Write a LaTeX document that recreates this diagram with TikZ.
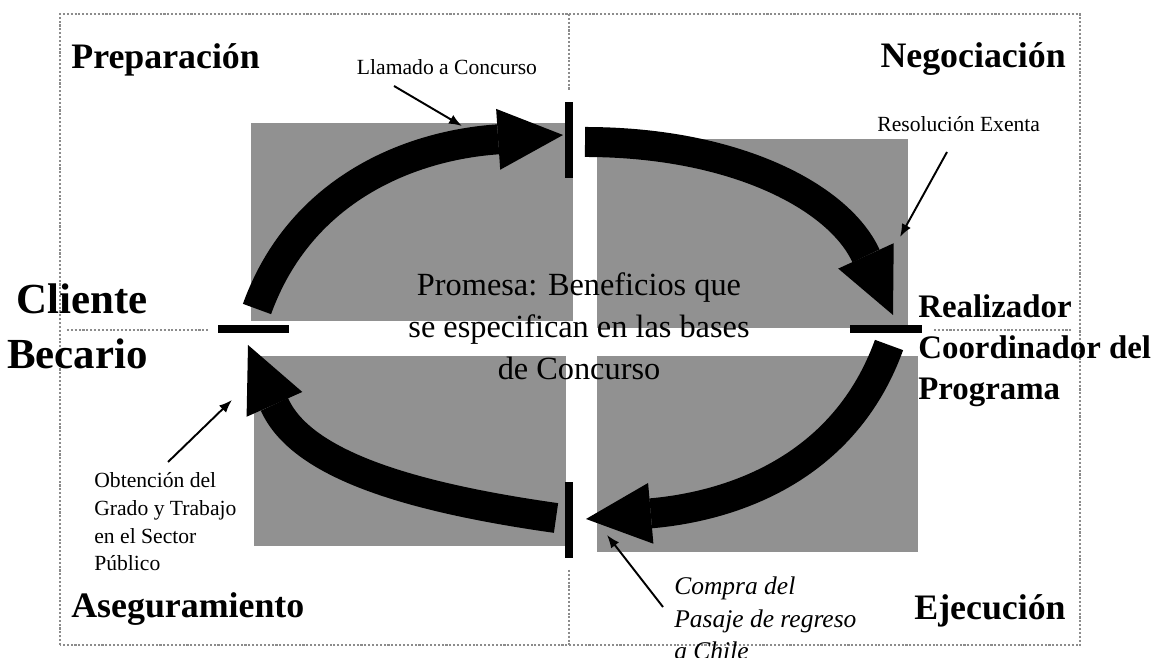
\documentclass[tikz,border=0pt]{standalone}
\usepackage{fontspec}
\setmainfont{Liberation Serif}
\usetikzlibrary{arrows.meta}
\definecolor{boxgray}{RGB}{145,145,145}
\definecolor{framegray}{RGB}{140,140,140}

\begin{document}
\begin{tikzpicture}[x=0.02cm,y=0.02cm,
  frameline/.style={framegray,densely dotted,line width=1.2pt},
  bar/.style={rectangle,fill=black,inner sep=0,outer sep=0},
  vbar/.style={bar,minimum width=0.16cm,minimum height=1.52cm},
  hbar/.style={bar,minimum width=1.44cm,minimum height=0.16cm},
  bigarrow/.style={line width=0.6cm,-{Triangle[length=1.3cm,width=1.22cm,line width=0pt]}},
  leader/.style={line width=1.1pt,-{Latex[length=0.26cm,width=0.2cm]}},
  heading/.style={inner sep=0,font=\fontsize{20.4}{24}\selectfont\bfseries},
  note/.style={inner sep=0,font=\fontsize{12.3}{15.9}\selectfont}]

\useasboundingbox (0,0) rectangle (1152,658);

% quadrants
\fill[boxgray] (251,535) rectangle (573,337);
\fill[boxgray] (597,519) rectangle (908,330);
\fill[boxgray] (254,302) rectangle (566,112);
\fill[boxgray] (597,302) rectangle (918,106);

% frame
\draw[frameline] (60,13) rectangle (1080,644);
\draw[frameline] (569,644) -- (569,568);
\draw[frameline] (569,88) -- (569,13);
\draw[frameline] (67,328) -- (210,328);
\draw[frameline] (934,328) -- (1072,328);

% Nodes
\node[vbar] (barN) at (569,518) {};
\node[hbar] (barE) at (886,329) {};
\node[vbar] (barS) at (569,138) {};
\node[hbar] (barW) at (253.5,328.5) {};

\node[heading,anchor=base west] (prep) at (71,589) {Preparación};
\node[heading,anchor=base east] (nego) at (1066,590) {Negociación};
\node[heading,anchor=base west] (aseg) at (71,40) {Aseguramiento};
\node[heading,anchor=base east] (ejec) at (1066,38) {Ejecución};

% multi-line nodes: base anchor sits on the last line
\node[inner sep=0,align=right,anchor=base east,font=\fontsize{24.4}{31.7}\selectfont\bfseries] (cliente) at (148,289) {Cliente\\Becario};
\node[inner sep=0,align=left,anchor=base west,font=\fontsize{18.7}{23.5}\selectfont\bfseries] (realizador) at (918,258) {Realizador\\Coordinador del\\Programa};
\node[inner sep=0,align=center,anchor=base,font=\fontsize{18.4}{24.1}\selectfont] (promesa) at (579,278) {Promesa: Beneficios que\\se especifican en las bases\\de Concurso};

\node[note,anchor=base] (llamado) at (447,583) {Llamado a Concurso};
\node[note,anchor=base west] (resolucion) at (877,526) {Resolución Exenta};
\node[note,align=left,anchor=base west] (obtencion) at (94,87) {Obtención del\\Grado y Trabajo\\en el Sector\\Público};
\node[note,align=left,anchor=base west,font=\fontsize{14.5}{18.7}\selectfont\itshape] (compra) at (674,-2) {Compra del\\Pasaje de regreso\\a Chile};

% arrow ends
\coordinate (a1s) at (257,349);
\coordinate (a1e) at (563,523);
\coordinate (a2s) at (585,516);
\coordinate (a2e) at (893,343);
\coordinate (a3s) at (889,313);
\coordinate (a3e) at (586,139);
\coordinate (a4s) at (556,140);
\coordinate (a4e) at (248,313);

%arcs
\draw[bigarrow] (a1s) .. controls +(44,122) and +(-150,-10) .. (a1e);
\draw[bigarrow] (a2s) .. controls +(150,0) and +(-54,118) .. (a2e);
\draw[bigarrow] (a3s) .. controls +(-44,-122) and +(149,13) .. (a3e);
\draw[bigarrow] (a4s) .. controls +(-148,21) and +(53,-119) .. (a4e);

% leaders
\coordinate (llamadoTail) at (394,572);
\coordinate (llamadoTip) at (462,532);
\coordinate (resolucionTail) at (947,506);
\coordinate (resolucionTip) at (900,421);
\coordinate (obtencionTail) at (168,196);
\coordinate (obtencionTip) at (232,258);
\coordinate (compraTail) at (663,51);
\coordinate (compraTip) at (607,123);

\path (llamadoTail) edge[leader] (llamadoTip);
\path (resolucionTail) edge[leader] (resolucionTip);
\path (obtencionTail) edge[leader] (obtencionTip);
\path (compraTail) edge[leader] (compraTip);

\end{tikzpicture}
\end{document}
